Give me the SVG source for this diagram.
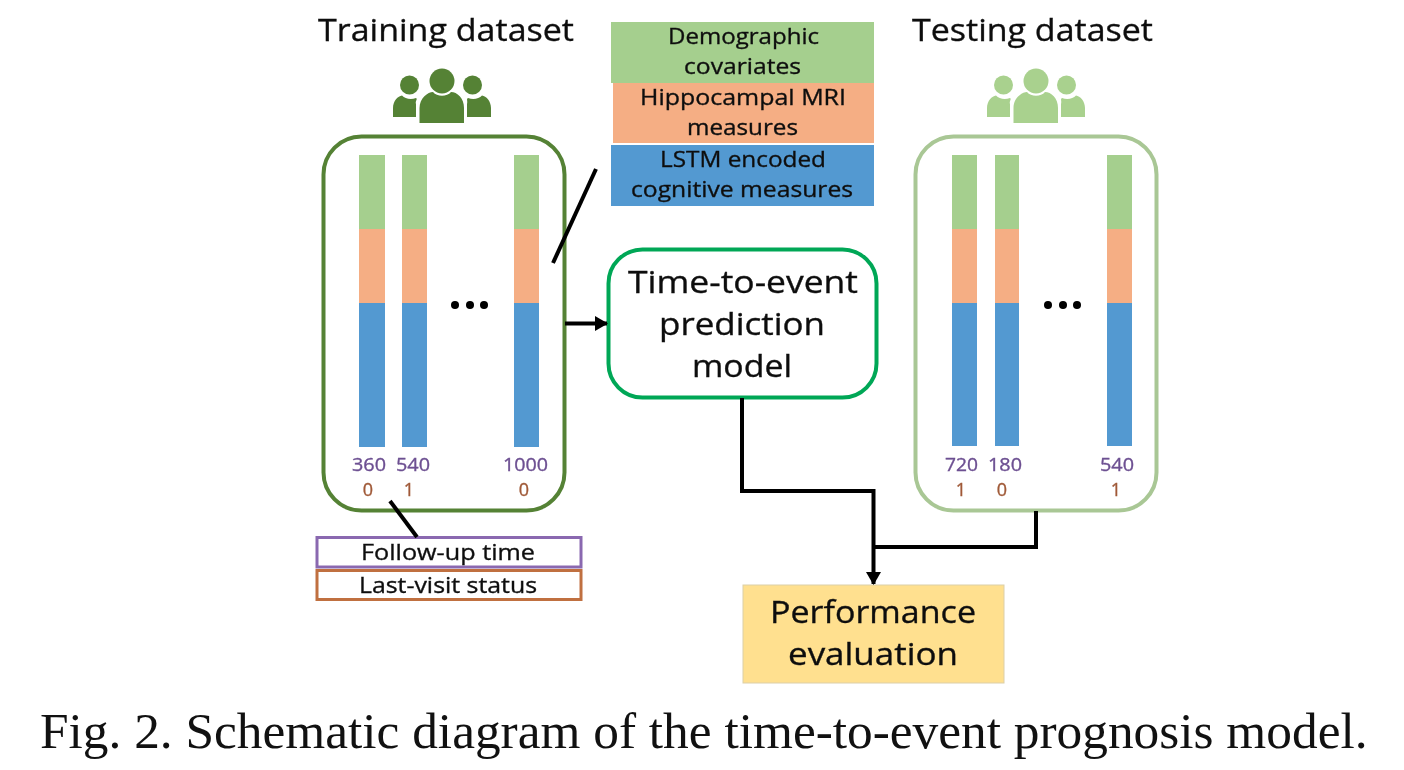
<svg xmlns="http://www.w3.org/2000/svg" width="1404" height="770" viewBox="0 0 1404 770">
<style>
text{font-family:"Open Sans","Noto Sans","DejaVu Sans",sans-serif;text-anchor:middle;fill:#111;stroke:#111;stroke-width:.35px}
.t1{font-size:31.500px}.t3{font-size:22.500px}
.num{font-size:18.500px;fill:#6d5092;stroke:#6d5092}.st{font-size:18px;fill:#a05a38;stroke:#a05a38}
.g{fill:#a5cf8e}.o{fill:#f5ae84}.b{fill:#5399d1}
.frame{fill:#fff;stroke-width:4}
.c{fill:none;stroke:#000;stroke-width:4}
.cap{font-family:"Liberation Serif","Times New Roman",serif;font-size:51.350px;fill:#111;stroke:none;text-anchor:start}
</style>
<defs>
<filter id="soft" x="-2%" y="-2%" width="104%" height="104%"><feGaussianBlur stdDeviation="0.65"/></filter>
<marker id="ah" markerUnits="userSpaceOnUse" markerWidth="16" markerHeight="18" refX="12" refY="9" orient="auto"><path d="M0 1.500L13 9L0 16.500Z" fill="#000"/></marker>
<g id="people">
<circle cx="442" cy="81" r="12.500"/><circle cx="409.500" cy="85" r="9.500"/><circle cx="472.500" cy="85" r="9.500"/>
<path d="M419.500 123V108C419.500 98 428 92 433 92C437 97 447 97 451 92C457 92 464 98 464 108V123Z"/>
<path d="M393 117V108C393 101 398 96 402 95.500C405 99 411 100 416 98C418 99 415 101 416 104V117Z"/>
<path d="M491 117V108C491 101 486 96 482 95.500C479 99 473 100 468 98C466 99 468 101 467 104V117Z"/>
</g>
</defs>
<rect width="1404" height="770" fill="#fff"/>
<g filter="url(#soft)">
<g id="training">
<text class="t1" x="446" y="41" textLength="256" lengthAdjust="spacingAndGlyphs">Training dataset</text>
<use href="#people" fill="#548235"/>
<rect class="frame" x="323.500" y="136.500" width="241" height="374" rx="38" stroke="#548235"/>
<rect class="g" x="359" y="155" width="26" height="74"/><rect class="o" x="359" y="229" width="26" height="74"/><rect class="b" x="359" y="303" width="26" height="144"/>
<rect class="g" x="402" y="155" width="25" height="74"/><rect class="o" x="402" y="229" width="25" height="74"/><rect class="b" x="402" y="303" width="25" height="144"/>
<rect class="g" x="514" y="155" width="25" height="74"/><rect class="o" x="514" y="229" width="25" height="74"/><rect class="b" x="514" y="303" width="25" height="144"/>
<circle cx="455" cy="305" r="4" fill="#000"/><circle cx="470" cy="305" r="4" fill="#000"/><circle cx="484" cy="305" r="4" fill="#000"/>
<text class="num" x="369" y="471" textLength="34" lengthAdjust="spacingAndGlyphs">360</text><text class="num" x="413" y="471" textLength="34" lengthAdjust="spacingAndGlyphs">540</text><text class="num" x="525.500" y="471" textLength="45" lengthAdjust="spacingAndGlyphs">1000</text>
<text class="st" x="368" y="496">0</text><text class="st" x="409" y="496">1</text><text class="st" x="524" y="496">0</text>
</g>
<g id="testing">
<text class="t1" x="1032.500" y="41" textLength="241" lengthAdjust="spacingAndGlyphs">Testing dataset</text>
<use href="#people" x="594" fill="#a9d18e"/>
<rect class="frame" x="915.500" y="136.500" width="241" height="374" rx="38" stroke="#a9c795"/>
<rect class="g" x="952" y="155" width="25" height="74"/><rect class="o" x="952" y="229" width="25" height="74"/><rect class="b" x="952" y="303" width="25" height="143"/>
<rect class="g" x="995" y="155" width="24" height="74"/><rect class="o" x="995" y="229" width="24" height="74"/><rect class="b" x="995" y="303" width="24" height="143"/>
<rect class="g" x="1107" y="155" width="25" height="74"/><rect class="o" x="1107" y="229" width="25" height="74"/><rect class="b" x="1107" y="303" width="25" height="143"/>
<circle cx="1048" cy="305" r="4" fill="#000"/><circle cx="1063" cy="305" r="4" fill="#000"/><circle cx="1077" cy="305" r="4" fill="#000"/>
<text class="num" x="961.500" y="471" textLength="33" lengthAdjust="spacingAndGlyphs">720</text><text class="num" x="1005" y="471" textLength="34" lengthAdjust="spacingAndGlyphs">180</text><text class="num" x="1117" y="471" textLength="34" lengthAdjust="spacingAndGlyphs">540</text>
<text class="st" x="961" y="496">1</text><text class="st" x="1002" y="496">0</text><text class="st" x="1116" y="496">1</text>
</g>
<g id="legend-features">
<rect class="g" x="611" y="22" width="263" height="61"/><text class="t3" x="743.500" y="44" textLength="151" lengthAdjust="spacingAndGlyphs">Demographic</text><text class="t3" x="742.500" y="74" textLength="117" lengthAdjust="spacingAndGlyphs">covariates</text>
<rect class="o" x="613" y="83" width="261" height="60"/><text class="t3" x="743" y="105" textLength="206" lengthAdjust="spacingAndGlyphs">Hippocampal MRI</text><text class="t3" x="742.500" y="135" textLength="111" lengthAdjust="spacingAndGlyphs">measures</text>
<rect class="b" x="611" y="145" width="263" height="61"/><text class="t3" x="743" y="167" textLength="166" lengthAdjust="spacingAndGlyphs">LSTM encoded</text><text class="t3" x="742" y="197" textLength="222" lengthAdjust="spacingAndGlyphs">cognitive measures</text>
</g>
<g id="model">
<rect x="608.500" y="249.500" width="268" height="148" rx="34" fill="#fff" stroke="#00a757" stroke-width="4"/>
<text class="t1" x="743" y="293" textLength="230" lengthAdjust="spacingAndGlyphs">Time-to-event</text><text class="t1" x="742" y="335" textLength="166" lengthAdjust="spacingAndGlyphs">prediction</text><text class="t1" x="742" y="377" textLength="100" lengthAdjust="spacingAndGlyphs">model</text>
</g>
<g id="legend-outcome">
<rect x="317" y="537.500" width="264" height="29.500" fill="#fff" stroke="#8a68b0" stroke-width="3"/><text class="t3" x="448" y="560" textLength="174" lengthAdjust="spacingAndGlyphs">Follow-up time</text>
<rect x="317" y="570.500" width="264" height="29" fill="#fff" stroke="#c06f40" stroke-width="3"/><text class="t3" x="448" y="593" textLength="178" lengthAdjust="spacingAndGlyphs">Last-visit status</text>
</g>
<g id="evaluation">
<rect x="743" y="585" width="261" height="98" fill="#ffe08f" stroke="#dccfa8"/>
<text class="t1" x="873" y="623" textLength="206" lengthAdjust="spacingAndGlyphs">Performance</text><text class="t1" x="873" y="665" textLength="170" lengthAdjust="spacingAndGlyphs">evaluation</text>
</g>
<g id="connectors">
<path class="c" d="M596 169L553 263"/>
<path class="c" d="M390 501L417 537"/>
<path class="c" stroke-width="3.500" d="M565 323.500H607" marker-end="url(#ah)"/>
<path class="c" d="M742 398V491H873.500V584" marker-end="url(#ah)"/>
<path class="c" d="M1036 511V547H873.500"/>
</g>
</g>
<text id="caption" class="cap" x="40" y="748">Fig. 2. Schematic diagram of the time-to-event prognosis model.</text>
</svg>
